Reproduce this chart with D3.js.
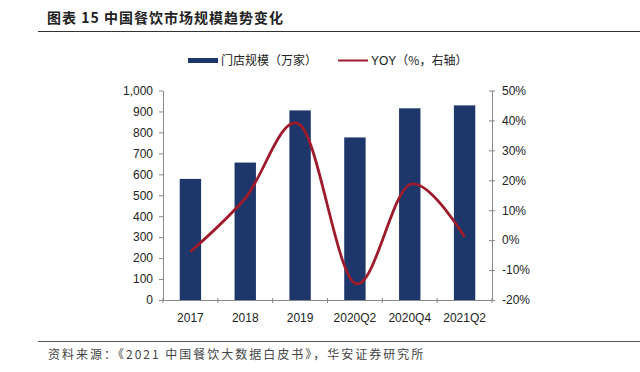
<!DOCTYPE html>
<html>
<head>
<meta charset="utf-8">
<script src="https://cdn.jsdelivr.net/npm/d3@7"></script>
<style>
  body { margin: 0; background: #fff; }
  svg { display: block; font-family: "Liberation Sans", Arial, sans-serif; }
</style>
</head>
<body>
<svg id="chart" width="640" height="372"></svg>
<script>
// chart data
var categories = ['2017', '2018', '2019', '2020Q2', '2020Q4', '2021Q2'];
var stores = [578, 656, 905, 776, 915, 929];   // 门店规模（万家）
var yoy = [-3.9, 14, 38.5, -14.4, 18.6, 1.1];   // YOY %
var leftTicks = [0, 100, 200, 300, 400, 500, 600, 700, 800, 900, 1000];
var rightTicks = [-20, -10, 0, 10, 20, 30, 40, 50];

var svg = d3.select('#chart');
var cjk = '"Noto Sans CJK SC", sans-serif';

// title + rules
svg.append('text')
  .attr('x', 47).attr('y', 23)
  .style('font-family', cjk)
  .style('font-weight', 'bold')
  .style('font-size', '14px')
  .style('letter-spacing', '1px')
  .style('fill', '#222')
  .text('图表 15  中国餐饮市场规模趋势变化');
svg.append('line')
  .attr('x1', 38).attr('x2', 640).attr('y1', 31.5).attr('y2', 31.5)
  .style('stroke', '#333').style('stroke-width', 1);
svg.append('line')
  .attr('x1', 38).attr('x2', 640).attr('y1', 341.5).attr('y2', 341.5)
  .style('stroke', '#555').style('stroke-width', 1);
svg.append('text')
  .attr('x', 48).attr('y', 359)
  .style('font-family', cjk)
  .style('font-size', '12px')
  .style('letter-spacing', '2px')
  .style('fill', '#444')
  .text('资料来源：《2021 中国餐饮大数据白皮书》，华安证券研究所');

// scales
var x = d3.scaleBand().domain(categories).range([163, 492]).paddingInner(0.61).paddingOuter(0.305);
var y = d3.scaleLinear().domain([0, 1000]).range([300, 90.5]);
var y2 = d3.scaleLinear().domain([-20, 50]).range([300, 90.5]);

var barColor = '#1d376b';
var lineColor = '#9e1b2c';

// bars
svg.selectAll('rect.bar')
  .data(stores)
  .enter().append('rect')
  .attr('class', 'bar')
  .attr('x', function(d, i) { return x(categories[i]); })
  .attr('width', x.bandwidth())
  .attr('y', function(d) { return y(d); })
  .attr('height', function(d) { return y(0) - y(d); })
  .style('fill', barColor);

// axes
function styleAxis(g) {
  g.selectAll('path, line').style('stroke', '#888');
  g.selectAll('text')
    .style('font-family', '"Liberation Sans", Arial, sans-serif')
    .style('font-size', '12px')
    .style('fill', '#222');
}

var leftAxis = svg.append('g')
  .attr('transform', 'translate(163,0)')
  .call(d3.axisLeft(y).tickValues(leftTicks).tickSize(4).tickSizeOuter(0)
    .tickFormat(d3.format(',')).tickPadding(6));
styleAxis(leftAxis);

var rightAxis = svg.append('g')
  .attr('transform', 'translate(492,0)')
  .call(d3.axisRight(y2).tickValues(rightTicks).tickSize(4).tickSizeOuter(0)
    .tickFormat(function(d) { return d + '%'; }).tickPadding(6));
styleAxis(rightAxis);
rightAxis.selectAll('.tick line').attr('x1', -3).attr('x2', 3);

var bottom = svg.append('g').attr('transform', 'translate(0,300)');
bottom.append('line')
  .attr('x1', 163).attr('x2', 492).attr('y1', 0.5).attr('y2', 0.5)
  .style('stroke', '#888');
var step = x.step();
bottom.selectAll('line.tk')
  .data(d3.range(categories.length + 1))
  .enter().append('line')
  .attr('class', 'tk')
  .attr('x1', function(i) { return 163 + i * step; })
  .attr('x2', function(i) { return 163 + i * step; })
  .attr('y1', -2).attr('y2', 3)
  .style('stroke', '#888');
bottom.selectAll('text')
  .data(categories)
  .enter().append('text')
  .attr('x', function(d) { return x(d) + x.bandwidth() / 2; })
  .attr('y', 22)
  .attr('text-anchor', 'middle')
  .style('font-size', '12px')
  .style('fill', '#222')
  .text(function(d) { return d; });

// YOY line
var line = d3.line()
  .x(function(d, i) { return x(categories[i]) + x.bandwidth() / 2; })
  .y(function(d) { return y2(d); })
  .curve(d3.curveCardinal.tension(0));
svg.append('path')
  .datum(yoy)
  .attr('d', line)
  .style('fill', 'none')
  .style('stroke', lineColor)
  .style('stroke-width', 2.8);

// legend
svg.append('rect')
  .attr('x', 188).attr('y', 58).attr('width', 30).attr('height', 5)
  .style('fill', barColor);
svg.append('text')
  .attr('x', 221).attr('y', 65)
  .style('font-family', cjk).style('font-size', '12px').style('fill', '#222')
  .text('门店规模（万家）');
svg.append('line')
  .attr('x1', 338).attr('x2', 368).attr('y1', 60.5).attr('y2', 60.5)
  .style('stroke', lineColor).style('stroke-width', 2);
svg.append('text')
  .attr('x', 371).attr('y', 65)
  .style('font-size', '12px').style('fill', '#222')
  .append('tspan').text('YOY')
  .select(function() { return this.parentNode; })
  .append('tspan').style('font-family', cjk).text('（%，右轴）');
</script>
</body>
</html>
